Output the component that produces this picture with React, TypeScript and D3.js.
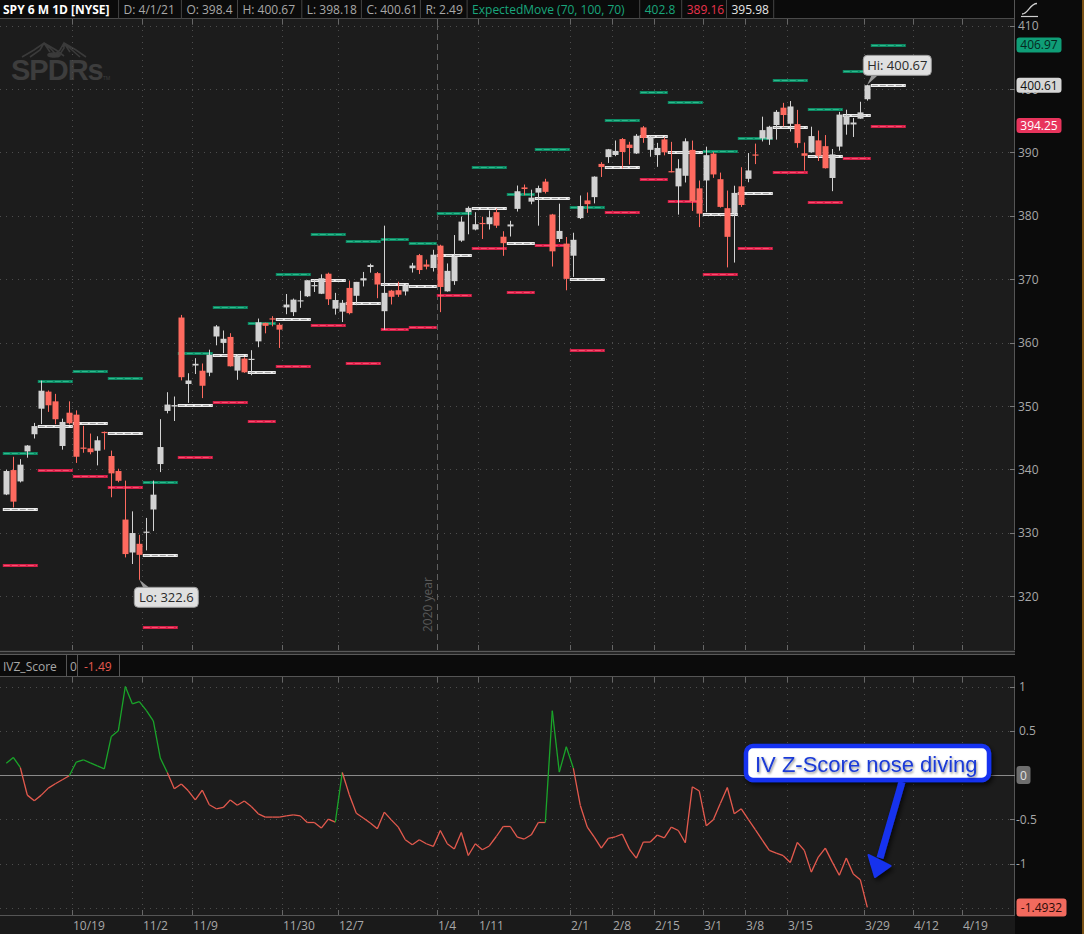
import React from "react";
import * as d3 from "d3";

// ---------- DATA ----------
const dates = [
  "10/5","10/6","10/7","10/8","10/9","10/12","10/13","10/14","10/15","10/16","10/19","10/20","10/21","10/22","10/23","10/26","10/27","10/28","10/29","10/30",
  "11/2","11/3","11/4","11/5","11/6","11/9","11/10","11/11","11/12","11/13","11/16","11/17","11/18","11/19","11/20","11/23","11/24","11/25","11/27","11/30",
  "12/1","12/2","12/3","12/4","12/7","12/8","12/9","12/10","12/11","12/14","12/15","12/16","12/17","12/18","12/21","12/22","12/23","12/24","12/28","12/29","12/30","12/31",
  "1/4","1/5","1/6","1/7","1/8","1/11","1/12","1/13","1/14","1/15","1/19","1/20","1/21","1/22","1/25","1/26","1/27","1/28","1/29",
  "2/1","2/2","2/3","2/4","2/5","2/8","2/9","2/10","2/11","2/12","2/16","2/17","2/18","2/19","2/22","2/23","2/24","2/25","2/26",
  "3/1","3/2","3/3","3/4","3/5","3/8","3/9","3/10","3/11","3/12","3/15","3/16","3/17","3/18","3/19","3/22","3/23","3/24","3/25","3/26","3/29","3/30","3/31",
  "4/1"
];
const opens = [
  336.06,339.91,338.12,342.85,345.56,349.59,352.28,350.75,343.71,348.96,348.65,343.46,343.33,342.96,345.93,342.13,339.76,332.10,326.91,328.28,
  330.20,333.69,340.86,349.24,349.93,363.97,353.49,356.40,355.58,355.27,360.98,359.97,360.91,355.60,357.50,357.28,360.21,363.13,363.84,362.83,
  365.57,364.82,366.68,367.32,369.02,367.72,370.88,365.37,364.90,368.64,367.40,369.82,371.94,370.97,364.97,368.21,368.28,368.08,371.74,373.81,372.34,371.78,
  375.31,368.10,369.71,376.10,380.59,377.85,378.89,378.69,380.59,376.72,378.34,381.11,384.49,382.25,383.67,385.41,380.22,376.36,375.63,
  373.72,379.65,382.44,382.96,388.20,389.27,389.61,392.12,391.24,389.85,393.96,390.42,389.59,392.07,387.06,384.66,386.33,390.41,384.35,
  385.59,389.82,385.79,381.22,380.46,384.66,385.85,389.69,392.23,392.07,394.33,397.07,394.53,394.48,389.88,390.03,391.91,391.00,385.98,390.93,394.40,394.42,395.34,
  398.40
];
const highs = [
  339.96,342.01,341.63,343.85,347.35,354.02,352.47,351.93,348.02,350.75,349.33,346.88,345.67,345.24,345.99,342.98,340.12,338.25,333.40,329.69,
  332.36,338.25,347.94,352.19,351.51,364.38,355.18,357.56,356.72,358.90,362.78,361.92,361.50,358.18,357.72,358.82,363.81,363.16,364.18,363.12,
  367.68,366.96,368.19,369.85,370.00,370.78,371.05,367.86,366.74,369.80,369.59,371.16,372.46,371.15,378.46,368.33,369.62,369.03,372.59,374.00,373.10,374.66,
  375.45,372.50,376.98,379.90,381.49,380.58,379.86,380.86,381.13,377.58,379.23,384.79,384.95,384.13,384.77,385.85,380.32,381.93,376.67,
  377.34,383.22,383.70,386.24,388.47,390.56,391.89,392.28,391.69,392.90,394.17,392.66,391.52,392.38,391.68,388.95,392.23,391.88,385.58,
  390.92,390.07,386.83,384.00,384.76,387.68,389.91,391.40,395.65,394.21,396.69,397.83,398.12,396.72,391.57,394.07,393.46,392.75,390.55,396.41,396.75,395.45,398.00,
  400.67
];
const lows = [
  335.96,334.01,337.96,341.86,344.89,347.16,349.09,347.14,343.13,347.10,341.04,342.64,342.40,340.65,343.13,335.62,337.99,326.13,325.09,322.60,
  327.24,330.29,339.59,348.86,347.65,354.06,350.51,355.06,351.26,354.71,359.59,358.34,356.24,354.15,355.25,354.87,359.29,361.48,362.58,359.17,
  364.49,364.20,365.50,367.22,368.00,367.67,365.95,364.43,363.26,364.47,365.92,368.87,371.05,367.02,362.03,366.03,367.22,367.45,371.07,370.83,371.57,371.23,
  364.82,368.05,369.12,375.91,377.10,377.72,376.36,377.85,378.10,373.70,376.75,380.69,383.25,381.84,378.46,383.54,372.01,375.89,368.27,
  370.38,379.50,380.48,381.97,386.14,388.35,389.42,387.50,388.10,389.77,391.53,389.33,387.74,389.55,386.87,380.20,385.27,380.78,378.23,
  380.57,386.00,381.31,371.88,372.64,381.42,385.31,388.17,391.74,391.20,392.03,394.11,393.30,390.75,387.15,389.97,388.66,387.47,383.90,390.29,392.81,392.45,395.31,
  398.18
];
const closes = [
  339.76,334.93,340.76,343.78,346.85,352.43,350.13,347.93,347.50,347.29,342.01,343.38,342.73,344.61,345.78,339.39,338.22,326.66,329.98,326.54,
  330.20,336.03,343.54,350.24,350.16,354.56,354.04,356.67,353.21,358.10,362.57,360.62,356.28,357.78,355.33,357.46,363.22,362.66,363.67,362.06,
  366.02,366.79,366.69,369.85,369.09,370.17,366.85,366.73,366.30,364.66,369.59,370.17,372.24,369.18,367.86,367.24,367.57,369.00,372.17,371.46,371.99,373.88,
  368.79,371.33,373.55,379.10,381.26,378.69,378.77,379.79,378.46,375.70,378.65,383.89,384.24,382.88,384.39,383.79,374.41,377.63,370.07,
  376.23,381.55,381.85,386.19,387.71,390.51,390.25,390.08,390.71,392.64,392.30,392.39,390.72,390.03,387.03,387.50,391.77,382.33,380.36,
  389.58,386.54,381.42,376.70,383.63,381.72,387.17,389.58,393.53,394.06,396.41,395.91,397.26,391.48,389.48,392.59,389.50,387.52,389.70,395.98,395.78,394.73,396.33,
  400.61
];
// Weekly expected move (upper / center / lower), last entry = next week
const emUpper = [342.6,353.9,355.6,354.4,338.0,358.3,365.7,363.1,370.9,377.1,376.0,376.3,375.7,380.4,387.7,383.5,390.5,381.4,395.1,399.6,397.9,390.2,392.3,401.4,396.8,402.8,406.97];
const emCenter = [333.84,346.85,347.29,345.78,326.54,350.16,358.10,355.33,363.67,369.85,366.30,369.18,369.00,373.88,381.26,375.70,382.88,370.07,387.71,392.64,390.03,380.36,383.63,394.06,389.48,395.98,400.61];
const emLower = [325.0,339.9,338.9,337.2,315.1,342.0,350.6,347.6,356.4,362.8,356.8,362.1,362.4,367.5,375.0,368.0,375.4,358.8,380.6,385.8,382.4,370.8,375.0,386.9,382.2,389.16,394.25];
// IV Z-score study
const ivz = [
  0.135,0.20,0.086,-0.226,-0.29,-0.226,-0.147,-0.098,-0.053,-0.008,0.147,0.173,0.139,0.105,0.071,0.436,0.50,1.0,0.805,0.83,
  0.73,0.613,0.192,0.03,-0.155,-0.10,-0.177,-0.28,-0.17,-0.335,-0.38,-0.365,-0.28,-0.34,-0.293,-0.354,-0.437,-0.474,-0.474,-0.474,
  -0.46,-0.448,-0.46,-0.535,-0.535,-0.598,-0.497,-0.53,0.03,-0.222,-0.43,-0.485,-0.54,-0.606,-0.418,-0.505,-0.587,-0.73,-0.787,-0.73,-0.775,-0.805,
  -0.625,-0.775,-0.835,-0.648,-0.907,-0.775,-0.843,-0.80,-0.693,-0.58,-0.58,-0.70,-0.722,-0.674,-0.535,-0.535,0.726,0.034,0.32,
  0.08,-0.343,-0.587,-0.70,-0.824,-0.715,-0.696,-0.666,-0.835,-0.937,-0.756,-0.756,-0.677,-0.708,-0.587,-0.625,-0.764,-0.132,-0.18,
  -0.572,-0.505,-0.32,-0.14,-0.437,-0.38,-0.50,-0.615,-0.735,-0.85,-0.88,-0.91,-0.986,-0.76,-0.85,-1.095,-0.925,-0.824,-0.982,-1.13,-0.937,-1.117,-1.18,
  -1.4932
];
const priceTicks = [320, 330, 340, 350, 360, 370, 380, 390, 400, 410];
const ivzTicks = [1, 0.5, 0, -0.5, -1, -1.5];
const xTickLabels = ["10/19","11/2","11/9","11/30","12/7","1/4","1/11","2/1","2/8","2/15","3/1","3/8","3/15","3/29","4/12","4/19"];
const xTickSlots = [9.44, 19.44, 26.5, 39.44, 47.44, 61.5, 67.44, 80.55, 86.55, 92.55, 99.55, 105.55, 111.55, 122.55, 129.55, 136.55];
const yearTickLabel = "1/4";

const FONT = "'Open Sans', 'DejaVu Sans', sans-serif";
const UP = "#d2d2d2";
const DOWN = "#fe6a5f";
const GREEN_LINE = "#1aa52a";
const RED_LINE = "#e55a4e";

export default function App() {
  const plotR = 1015;
  const mainTop = 19, mainBot = 650;
  const lowTop = 677, lowBot = 915;
  const x = d3.scaleLinear().domain([0, 123]).range([6.3, 867.3]);
  const y = d3.scaleLinear().domain([320, 410]).range([596.3, 25.7]);
  const yz = d3.scaleLinear().domain([-1.5, 1]).range([908, 686.5]);

  const parsed = dates.map((s) => {
    const [m, d] = s.split("/").map(Number);
    return new Date(m >= 10 ? 2020 : 2021, m - 1, d);
  });
  const weeks: { key: number; start: number; end: number }[] = [];
  parsed.forEach((dt, i) => {
    const key = d3.timeMonday.floor(dt).getTime();
    const last = weeks[weeks.length - 1];
    if (!last || last.key !== key) weeks.push({ key, start: i, end: i });
    else last.end = i;
  });
  const n = dates.length;
  weeks.push({ key: -1, start: n, end: n + 4 });

  const bodyW = 6;
  const loIdx = lows.indexOf(d3.min(lows) as number);
  const hiIdx = highs.indexOf(d3.max(highs) as number);

  const emSeg = (vals: number[], base: string, inner: string, key: string) =>
    weeks.map((w, k) => {
      const x1 = x(w.start - 0.5), x2 = x(w.end + 0.5), yy = Math.round(y(vals[k])) + 0.5;
      return (
        <g key={key + k}>
          <line x1={x1} x2={x2} y1={yy} y2={yy} stroke={base} strokeWidth={3} />
          <line x1={x1 + 1} x2={x2 - 1} y1={yy} y2={yy} stroke={inner} strokeWidth={1} strokeDasharray="6,2" />
        </g>
      );
    });

  const headerCells = [
    { t: "D: 4/1/21", c: "#a8a8a8" },
    { t: "O: 398.4", c: "#a8a8a8" },
    { t: "H: 400.67", c: "#a8a8a8" },
    { t: "L: 398.18", c: "#a8a8a8" },
    { t: "C: 400.61", c: "#a8a8a8" },
    { t: "R: 2.49", c: "#a8a8a8" },
    { t: "ExpectedMove (70, 100, 70)", c: "#19a67c" },
    { t: "402.8", c: "#19a67c" },
    { t: "389.16", c: "#e8334d" },
    { t: "395.98", c: "#e6e6e6" },
  ];
  const headerBorders = [118.6, 181.4, 237.5, 301.8, 361.4, 420.4, 467.1, 639.7, 681.7, 726.5, 773.7];

  const yearX = x(xTickSlots[xTickLabels.indexOf(yearTickLabel)]);

  const loX = x(loIdx), loY = y(lows[loIdx]);
  const hiX = x(hiIdx), hiY = y(highs[hiIdx]);

  return (
    <div style={{ position: "absolute", left: 0, top: 0 }}>
      <svg width={1084} height={934} style={{ display: "block", fontFamily: FONT }}>
        <defs>
          <filter id="shadow" x="-20%" y="-40%" width="150%" height="180%">
            <feDropShadow dx="2" dy="3" stdDeviation="2.5" floodColor="#000" floodOpacity="0.7" />
          </filter>
          <filter id="tshadow" x="-10%" y="-30%" width="130%" height="160%">
            <feDropShadow dx="1" dy="1.5" stdDeviation="1" floodColor="#000" floodOpacity="0.45" />
          </filter>
        </defs>
        {/* backgrounds */}
        <rect x={0} y={0} width={1084} height={934} fill="#1c1c1c" />
        <rect x={plotR} y={0} width={1084 - plotR} height={934} fill="#0b0b0b" />
        <rect x={1082} y={0} width={2} height={934} fill="#7a5214" />
        {/* header bar */}
        <rect x={0} y={0} width={plotR} height={mainTop} fill="#0b0b0b" />
        <line x1={0} x2={plotR} y1={mainTop - 0.5} y2={mainTop - 0.5} stroke="#4a4a4a" />
        <text x={3} y={14} fill="#ffffff" fontSize={12} fontWeight="bold">SPY 6 M 1D [NYSE]</text>
        {headerBorders.map((b, i) => (
          <line key={"hb" + i} x1={b} x2={b} y1={0} y2={mainTop} stroke="#444" />
        ))}
        {headerCells.map((c, i) => (
          <text key={"hc" + i} x={headerBorders[i] + 5} y={14} fill={c.c} fontSize={12}>{c.t}</text>
        ))}
        {/* top right icon */}
        <path d="M1022,14 C1028,14 1030,3.5 1037,3.5" stroke="#cfcfcf" strokeWidth={1.3} fill="none" />
        <line x1={1021} x2={1038} y1={16.5} y2={16.5} stroke="#cfcfcf" strokeWidth={1.2} />

        {/* SPDRs watermark */}
        <g fill="none" stroke="#3a3a3a" strokeWidth={1.6}>
          <path d="M22,57 L34,50 L44,43 L50,52 M30,57 L40,50 L44,43 M44,43 L56,50 L64,56 M44,43 L52,50 L58,57" />
          <path d="M52,57 L60,50 L64,43 L70,52 M58,57 L64,48 L64,43 M64,43 L76,50 L86,57 M64,43 L72,50 L80,57" />
          <ellipse cx={54} cy={55} rx={6} ry={2} fill="#3a3a3a" />
        </g>
        <text x={11} y={80} fill="#3d3d3d" fontSize={29} fontWeight="bold" fontFamily="'Liberation Sans', Arial, sans-serif" letterSpacing={-1}>SPDRs</text>
        <text x={103} y={80} fill="#3d3d3d" fontSize={5}>TM</text>

        {/* main grid */}
        {priceTicks.map((p) => (
          <line key={"hg" + p} x1={0} x2={plotR} y1={Math.round(y(p)) + 0.5} y2={Math.round(y(p)) + 0.5} stroke="#4d4d4d" strokeDasharray="1,5" />
        ))}
        {xTickSlots.map((s, i) => {
          const xx = Math.round(x(s)) + 0.5;
          const isYear = xTickLabels[i] === yearTickLabel;
          return (
            <g key={"vg" + i}>
              <line x1={xx} x2={xx} y1={mainTop} y2={mainTop + 5} stroke="#666" />
              <line x1={xx} x2={xx} y1={mainBot - 5} y2={mainBot} stroke="#666" />
              <line x1={xx} x2={xx} y1={mainTop + 5} y2={mainBot - 5} stroke={isYear ? "#5e5e5e" : "#4d4d4d"} strokeDasharray={isYear ? "6,4" : "1,5"} />
              <line x1={xx} x2={xx} y1={lowTop} y2={lowTop + 5} stroke="#666" />
              <line x1={xx} x2={xx} y1={lowBot - 5} y2={lowBot} stroke="#666" />
              <line x1={xx} x2={xx} y1={lowTop + 5} y2={lowBot - 5} stroke="#4d4d4d" strokeDasharray="1,5" />
            </g>
          );
        })}
        <text transform={`translate(${yearX - 5},${632}) rotate(-90)`} fill="#5a5a5a" fontSize={12}>2020 year</text>

        {/* expected move lines */}
        {emSeg(emUpper, "#0c8a64", "#2fb88b", "u")}
        {emSeg(emLower, "#d61f48", "#f5506f", "l")}
        {emSeg(emCenter, "#ececec", "#a0a0a0", "c")}

        {/* candles */}
        {dates.map((d, i) => {
          const up = closes[i] >= opens[i];
          const col = up ? UP : DOWN;
          const cx = Math.round(x(i)) + 0.5;
          const yT = y(Math.max(opens[i], closes[i]));
          const yB = y(Math.min(opens[i], closes[i]));
          const h = Math.max(1.2, yB - yT);
          return (
            <g key={"c" + i}>
              <line x1={cx} x2={cx} y1={y(highs[i])} y2={y(lows[i])} stroke={col} strokeWidth={1} />
              <rect x={cx - bodyW / 2} y={yT} width={bodyW} height={h} fill={col} />
            </g>
          );
        })}

        {/* Lo / Hi callouts */}
        <g>
          <path d={`M${loX},${loY} L${loX + 4},${loY + 8} L${loX + 10},${loY + 8} Z`} fill="#9a9a9a" />
          <rect x={loX - 5} y={loY + 7.5} width={64} height={20} rx={4} fill="#e0e0e0" stroke="#9a9a9a" />
          <text x={loX + 27} y={loY + 22} textAnchor="middle" fill="#2a2a2a" fontSize={13}>{"Lo: " + lows[loIdx]}</text>
        </g>
        <g>
          <path d={`M${hiX},${hiY} L${hiX + 4},${hiY - 9} L${hiX + 10},${hiY - 9} Z`} fill="#9a9a9a" />
          <rect x={hiX - 4} y={hiY - 29.5} width={68} height={20} rx={4} fill="#e0e0e0" stroke="#9a9a9a" />
          <text x={hiX + 30} y={hiY - 15} textAnchor="middle" fill="#2a2a2a" fontSize={13}>{"Hi: " + highs[hiIdx]}</text>
        </g>

        {/* panel separators */}
        <line x1={plotR - 0.5} x2={plotR - 0.5} y1={0} y2={934} stroke="#555" />
        <rect x={0} y={mainBot} width={plotR} height={5} fill="#262626" />
        <line x1={0} x2={plotR} y1={mainBot + 1.5} y2={mainBot + 1.5} stroke="#5a5a5a" />
        <line x1={0} x2={plotR} y1={mainBot + 4.5} y2={mainBot + 4.5} stroke="#5a5a5a" />
        <rect x={0} y={655} width={plotR} height={22} fill="#0b0b0b" />
        <line x1={0} x2={plotR} y1={lowTop - 0.5} y2={lowTop - 0.5} stroke="#555" />
        <text x={3} y={671} fill="#a8a8a8" fontSize={12}>IVZ_Score</text>
        <line x1={66.5} x2={66.5} y1={655} y2={677} stroke="#555" />
        <text x={70} y={671} fill="#a8a8a8" fontSize={12}>0</text>
        <line x1={77.5} x2={77.5} y1={655} y2={677} stroke="#555" />
        <text x={84} y={671} fill={RED_LINE} fontSize={12}>-1.49</text>
        <line x1={119.5} x2={119.5} y1={655} y2={677} stroke="#555" />

        {/* lower panel grid */}
        {ivzTicks.map((t) =>
          t === 0 ? (
            <line key={"zg" + t} x1={0} x2={plotR} y1={Math.round(yz(t)) + 0.5} y2={Math.round(yz(t)) + 0.5} stroke="#8a8a8a" />
          ) : (
            <line key={"zg" + t} x1={0} x2={plotR} y1={Math.round(yz(t)) + 0.5} y2={Math.round(yz(t)) + 0.5} stroke="#4d4d4d" strokeDasharray="1,5" />
          )
        )}
        {/* IVZ line */}
        {ivz.slice(1).map((v, k) => {
          const i = k + 1;
          return (
            <line key={"z" + i} x1={x(i - 1)} y1={yz(ivz[i - 1])} x2={x(i)} y2={yz(v)} stroke={v > 0 ? GREEN_LINE : RED_LINE} strokeWidth={1.3} />
          );
        })}

        {/* bottom axis */}
        <rect x={0} y={lowBot} width={plotR} height={934 - lowBot} fill="#1a1a1a" />
        <line x1={0} x2={plotR} y1={lowBot + 0.5} y2={lowBot + 0.5} stroke="#555" />
        {xTickSlots.map((s, i) => (
          <text key={"xl" + i} x={Math.round(x(s)) + 1} y={930} fill="#a8a8a8" fontSize={12}>{xTickLabels[i]}</text>
        ))}

        {/* right price axis */}
        {priceTicks.map((p) => (
          <g key={"pt" + p}>
            <line x1={plotR - 5} x2={plotR} y1={Math.round(y(p)) + 0.5} y2={Math.round(y(p)) + 0.5} stroke="#777" />
            <text x={plotR + 3} y={y(p) + 4.5} fill="#a8a8a8" fontSize={12}>{p}</text>
          </g>
        ))}
        {[
          { v: emUpper[emUpper.length - 1], bg: "#0f9e77", fg: "#06281e" },
          { v: closes[n - 1], bg: "#d6d6d6", fg: "#111" },
          { v: emLower[emLower.length - 1], bg: "#e8345c", fg: "#ffffff" },
        ].map((b, i) => (
          <g key={"pb" + i}>
            <rect x={plotR + 1.5} y={y(b.v) - 7.5} width={45} height={15} rx={3} fill={b.bg} />
            <text x={plotR + 24} y={y(b.v) + 4.5} textAnchor="middle" fill={b.fg} fontSize={12}>{b.v.toFixed(2)}</text>
          </g>
        ))}
        {/* right IVZ axis */}
        {ivzTicks.map((t) =>
          t === 0 || t === -1.5 ? null : (
            <g key={"zt" + t}>
              <line x1={plotR - 5} x2={plotR} y1={Math.round(yz(t)) + 0.5} y2={Math.round(yz(t)) + 0.5} stroke="#777" />
              <text x={plotR + (t > 0 ? 4 : 1)} y={yz(t) + 4.5} fill="#a8a8a8" fontSize={12}>{String(t)}</text>
            </g>
          )
        )}
        <rect x={plotR + 1.5} y={yz(0) - 9} width={14} height={18} rx={3} fill="#6e6e6e" />
        <text x={plotR + 8.5} y={yz(0) + 4.5} textAnchor="middle" fill="#e0e0e0" fontSize={12}>0</text>
        <rect x={plotR + 1.5} y={yz(ivz[n - 1]) - 9} width={50} height={18} rx={3} fill="#f26a5e" />
        <text x={plotR + 26.5} y={yz(ivz[n - 1]) + 4.5} textAnchor="middle" fill="#2a0a08" fontSize={12}>{ivz[n - 1].toFixed(4)}</text>

        {/* annotation */}
        <g filter="url(#shadow)">
          <line x1={902} x2={880} y1={782} y2={858} stroke="#1733ee" strokeWidth={7} />
          <path d="M868.5,855 L890.5,866 L875,877 Z" fill="#1733ee" stroke="#1733ee" strokeWidth={2} strokeLinejoin="round" />
          <rect x={746} y={746} width={243} height={34} rx={7} fill="#ffffff" stroke="#1533f0" strokeWidth={4.5} />
        </g>
        <text x={755} y={772} fill="#1a3ad6" fontSize={22} fontFamily="'Liberation Sans', Arial, sans-serif" filter="url(#tshadow)">IV Z-Score nose diving</text>
      </svg>
    </div>
  );
}
